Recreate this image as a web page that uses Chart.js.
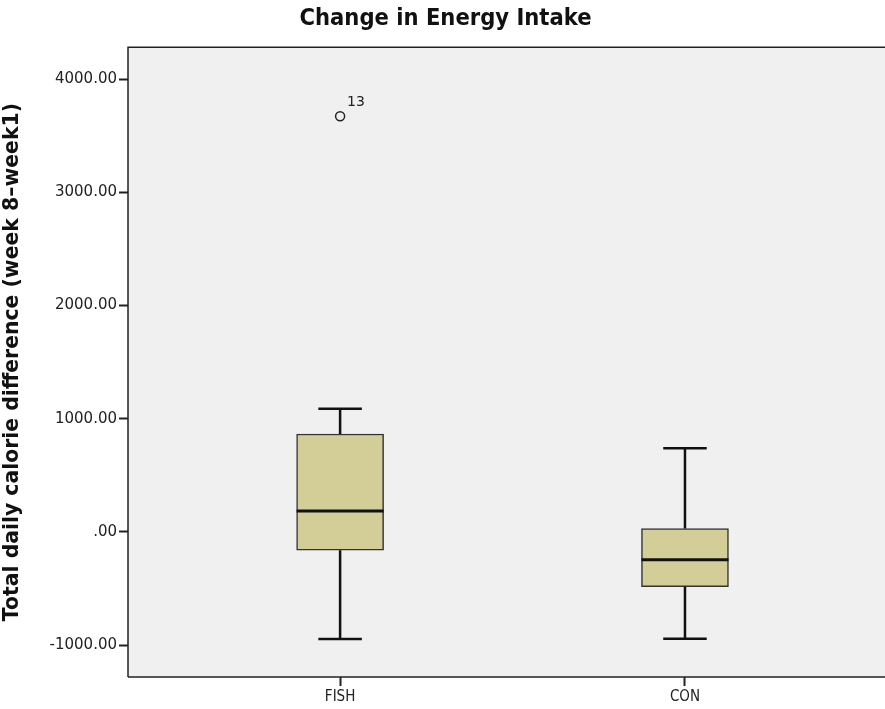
<!DOCTYPE html>
<html>
<head>
<meta charset="utf-8">
<title>Change in Energy Intake</title>
<script src="https://cdn.jsdelivr.net/npm/chart.js@4.4.1/dist/chart.umd.min.js"></script>
<style>
    html, body { margin: 0; padding: 0; background: #ffffff; overflow: hidden; }
    #wrap { width: 891px; height: 709px; position: relative; }
    canvas { display: block; }
</style>
</head>
<body>
<div id="wrap"><canvas id="boxChart"></canvas></div>
<script>
// groups and box statistics
const groups = ["FISH", "CON"];
const groupPos = [1, 2];
const q1 = [-162, -483];
const q3 = [865, 29];
const medians = [185, -247];
const whiskerLow = [-947, -944];
const whiskerHigh = [1088, 739];
const outlierGroup = [1];
const outlierValues = [3672];
const outlierLabels = ["13"];
const yTicks = [-1000, 0, 1000, 2000, 3000, 4000];

const boxData = groupPos.map((x, i) => ({ x: x, y: [q1[i], q3[i]] }));
const outlierData = outlierGroup.map((g, i) => ({ x: g, y: outlierValues[i] }));

// plot frame + background, whiskers, medians
const framePlugin = {
    id: "frame",
    beforeDatasetsDraw(chart) {
        const { ctx, chartArea: a } = chart;
        ctx.save();
        ctx.fillStyle = "#f0f0f0";
        ctx.fillRect(a.left, a.top, a.right - a.left, a.bottom - a.top);
        ctx.strokeStyle = "#222";
        ctx.lineWidth = 1.5;
        ctx.beginPath();
        ctx.moveTo(a.left, a.bottom);
        ctx.lineTo(a.left, a.top);
        ctx.lineTo(a.right, a.top);
        ctx.moveTo(a.left, a.bottom);
        ctx.lineTo(a.right, a.bottom);
        ctx.stroke();
        ctx.restore();
    },
    afterDatasetsDraw(chart) {
        const { ctx } = chart;
        const xs = chart.scales.x, ys = chart.scales.y;
        const boxW = chart.getDatasetMeta(0).data[0].width;
        ctx.save();
        ctx.strokeStyle = "#111";
        ctx.lineCap = "butt";
        groupPos.forEach((g, i) => {
            const cx = xs.getPixelForValue(g);
            const cap = boxW / 4;
            ctx.lineWidth = 2.5;
            ctx.beginPath();
            ctx.moveTo(cx, ys.getPixelForValue(q3[i]));
            ctx.lineTo(cx, ys.getPixelForValue(whiskerHigh[i]));
            ctx.moveTo(cx - cap, ys.getPixelForValue(whiskerHigh[i]));
            ctx.lineTo(cx + cap, ys.getPixelForValue(whiskerHigh[i]));
            ctx.moveTo(cx, ys.getPixelForValue(q1[i]));
            ctx.lineTo(cx, ys.getPixelForValue(whiskerLow[i]));
            ctx.moveTo(cx - cap, ys.getPixelForValue(whiskerLow[i]));
            ctx.lineTo(cx + cap, ys.getPixelForValue(whiskerLow[i]));
            ctx.stroke();
            ctx.lineWidth = 3;
            ctx.beginPath();
            ctx.moveTo(cx - boxW / 2, ys.getPixelForValue(medians[i]));
            ctx.lineTo(cx + boxW / 2, ys.getPixelForValue(medians[i]));
            ctx.stroke();
        });
        // outlier case numbers
        ctx.fillStyle = "#222";
        ctx.font = "14px 'DejaVu Sans'";
        ctx.textAlign = "left";
        ctx.textBaseline = "alphabetic";
        outlierGroup.forEach((g, i) => {
            const px = xs.getPixelForValue(g);
            const py = ys.getPixelForValue(outlierValues[i]);
            ctx.fillText(outlierLabels[i], px + 7, py - 10);
        });
        ctx.restore();
    }
};

new Chart(document.getElementById("boxChart"), {
    type: "bar",
    data: {
        datasets: [{
            data: boxData,
            backgroundColor: "#d3ce98",
            borderColor: "#333",
            borderWidth: 1.5,
            borderSkipped: false,
            barThickness: 87
        }, {
            type: "scatter",
            data: outlierData,
            pointStyle: "circle",
            pointRadius: 4.5,
            pointBorderWidth: 1.5,
            pointBorderColor: "#222",
            pointBackgroundColor: "rgba(0,0,0,0)"
        }]
    },
    options: {
        responsive: true,
        maintainAspectRatio: false,
        animation: false,
        layout: { padding: 0 },
        plugins: {
            legend: { display: false },
            tooltip: { enabled: false },
            title: {
                display: true,
                text: "Change in Energy Intake",
                color: "#111",
                font: { family: "'DejaVu Sans Condensed', 'DejaVu Sans'", size: 23.5, weight: "bold" },
                padding: { top: 5, bottom: 14 }
            }
        },
        scales: {
            x: {
                type: "linear",
                min: 0.385,
                max: 2.58,
                offset: false,
                afterBuildTicks: s => { s.ticks = groupPos.map(v => ({ value: v })); },
                afterFit: s => { s.height = 32; },
                ticks: {
                    color: "#222",
                    font: { family: "'DejaVu Sans Condensed', 'DejaVu Sans'", size: 15 },
                    padding: 2,
                    maxRotation: 0,
                    callback: v => groups[groupPos.indexOf(v)] || ""
                },
                grid: { offset: false, drawOnChartArea: false, tickLength: 9, tickColor: "#222", tickWidth: 2 },
                border: { display: false }
            },
            y: {
                min: -1282,
                max: 4282,
                afterBuildTicks: s => { s.ticks = yTicks.map(v => ({ value: v })); },
                afterFit: s => { s.width = 128; },
                ticks: {
                    color: "#222",
                    font: { family: "'DejaVu Sans'", size: 15 },
                    padding: 2,
                    callback: v => v === 0 ? ".00" : v.toFixed(2)
                },
                grid: { drawOnChartArea: false, tickLength: 9, tickColor: "#222", tickWidth: 2 },
                border: { display: false },
                title: {
                    display: true,
                    text: "Total daily calorie difference (week 8\u2013week1)",
                    color: "#111",
                    font: { family: "'DejaVu Sans'", size: 20.4, weight: "bold" },
                    padding: { top: 0, bottom: 4 }
                }
            }
        }
    },
    plugins: [framePlugin]
});
</script>
</body>
</html>
